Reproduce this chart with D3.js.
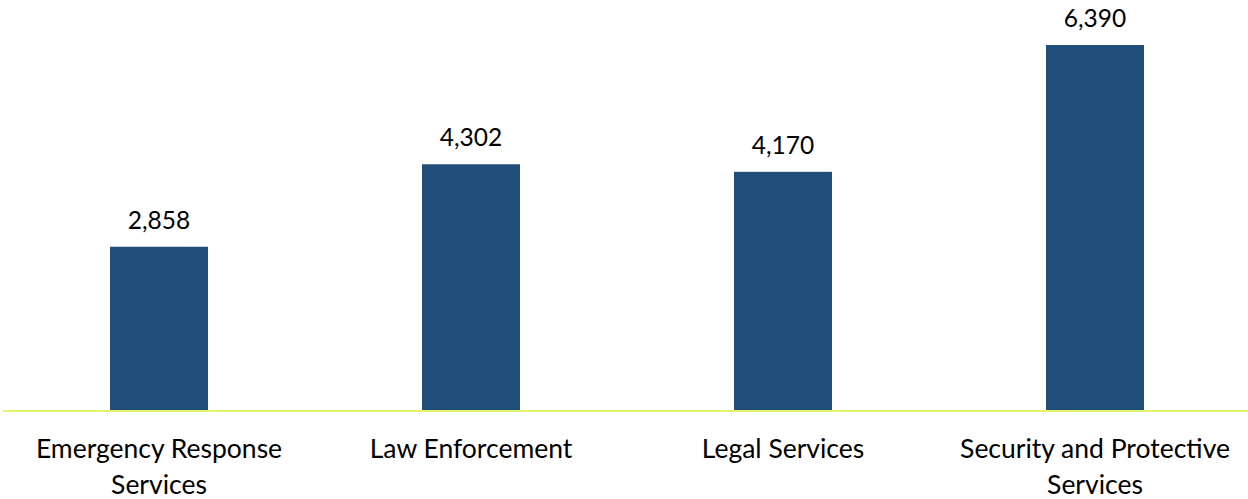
<!DOCTYPE html>
<html lang="en">
<head>
<meta charset="UTF-8">
<title>Bar chart</title>
<script src="https://d3js.org/d3.v7.min.js"></script>
<style>
    body { margin: 0; background: #fff; }
    text { font-family: Lato, "Open Sans", sans-serif; fill: #000; }
    .value { font-size: 24.5px; }
    .cat { font-size: 26.5px; }
</style>
</head>
<body>
<script>
    // data
    var categories = [
        ["Emergency Response", "Services"],
        ["Law Enforcement"],
        ["Legal Services"],
        ["Security and Protective", "Services"]
    ];
    var values = [2858, 4302, 4170, 6390];

    var width = 1248, height = 499;
    var baseY = 410;

    var svg = d3.select("body").append("svg")
        .attr("width", width)
        .attr("height", height);

    var x = d3.scaleBand()
        .domain(d3.range(values.length))
        .range([3, 1251])
        .paddingInner(0.686)
        .paddingOuter(0.343);

    var y = d3.scaleLinear()
        .domain([0, 6390])
        .range([baseY, 45]);

    var fmt = d3.format(",");

    svg.selectAll(".bar")
        .data(values)
        .enter().append("rect")
        .attr("class", "bar")
        .attr("x", function(d, i) { return x(i); })
        .attr("width", x.bandwidth())
        .attr("y", function(d) { return y(d); })
        .attr("height", function(d) { return baseY - y(d); })
        .attr("fill", "#1f4e79");

    svg.selectAll(".value")
        .data(values)
        .enter().append("text")
        .attr("class", "value")
        .attr("x", function(d, i) { return x(i) + x.bandwidth() / 2; })
        .attr("y", function(d) { return y(d) - 18; })
        .attr("text-anchor", "middle")
        .text(function(d) { return fmt(d); });

    // baseline
    svg.append("line")
        .attr("x1", 3).attr("x2", width)
        .attr("y1", baseY + 1).attr("y2", baseY + 1)
        .attr("stroke", "#e2f26b")
        .attr("stroke-width", 2);

    // category labels
    svg.selectAll(".cat")
        .data(categories)
        .enter().append("text")
        .attr("class", "cat")
        .attr("text-anchor", "middle")
        .attr("transform", function(d, i) { return "translate(" + (x(i) + x.bandwidth() / 2) + ",0)"; })
        .each(function(d) {
            var t = d3.select(this);
            d.forEach(function(line, j) {
                t.append("tspan").attr("x", 0).attr("y", 458 + j * 36).text(line);
            });
        });
</script>
</body>
</html>
